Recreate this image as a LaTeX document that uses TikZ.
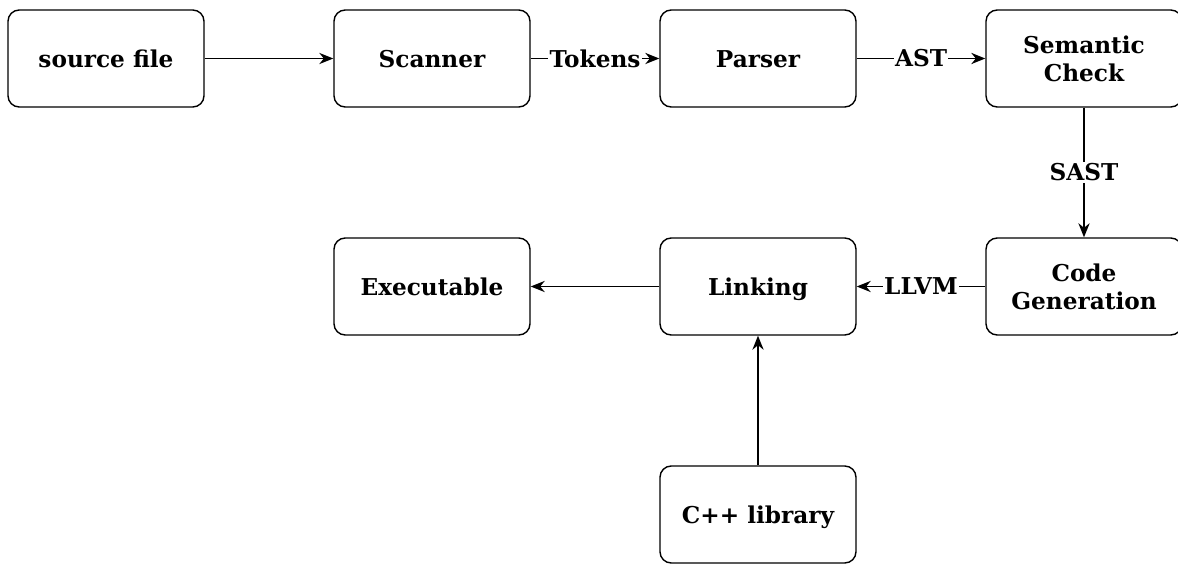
\documentclass[tikz,border=0pt]{standalone}
\usepackage{fontspec}
\setmainfont{DejaVu Serif}
\usetikzlibrary{arrows.meta, positioning}

\begin{document}
\begin{tikzpicture}[
    flow arrow/.style={
        draw=#1,
        line width=1pt,
        -{Stealth[length=10pt, width=8pt]}
    },
    vertex/.style={
        draw,
        rectangle,
        line width=1pt,
        rounded corners=8pt,
        align=center,
        font=\bfseries\fontsize{16.5}{20}\selectfont,
        minimum width=4.9cm,
        minimum height=2.425cm
    },
    one line/.style={
        text height=1.35em,
        text depth=0pt
    },
    edge label/.style={
        fill=white,
        inner sep=1pt,
        font=\bfseries\fontsize{16.5}{20}\selectfont
    }
]
    \useasboundingbox (0,0) rectangle (29.45,14.075);

        \node[vertex, one line] (source) at (2.65,12.6125) {source file};
        \node[vertex, one line] (scanner) at (10.8,12.6125) {Scanner};
        \node[vertex, one line] (parser) at (18.95,12.6125) {Parser};
        \node[vertex] (semant) at (27.1,12.6125) {Semantic\\Check};

        \node[vertex, one line] (exec) at (10.8,6.9125) {Executable};
        \node[vertex, one line] (linking) at (18.95,6.9125) {Linking};
        \node[vertex] (codegen) at (27.1,6.9125) {Code\\Generation};

        \node[vertex, one line] (cpplib) at (18.95,1.2125) {C++ library};

    \draw[flow arrow=black] (source) -- (scanner);
    \draw[flow arrow=black] (scanner) -- node[edge label] {Tokens} (parser);
    \draw[flow arrow=black] (parser) -- node[edge label] {AST} (semant);
    \draw[flow arrow=black] (semant) -- node[edge label] {SAST} (codegen);

    \draw[flow arrow=black] (codegen) -- node[edge label] {LLVM} (linking);
    \draw[flow arrow=black] (linking) -- (exec);
    \draw[flow arrow=black] (cpplib) -- (linking);
\end{tikzpicture}
\end{document}
